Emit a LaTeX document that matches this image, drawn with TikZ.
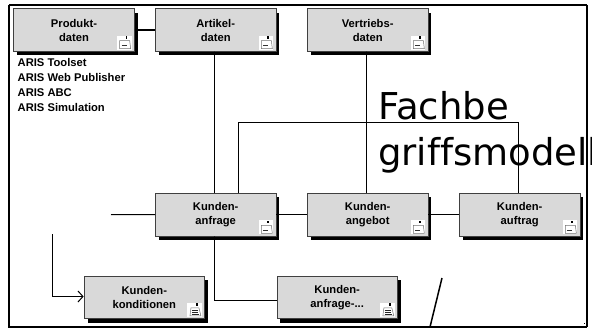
\documentclass[tikz,border=0pt]{standalone}
\usepackage{fontspec}
\setmainfont{Liberation Sans}
\newfontfamily\bigfont[Ligatures=NoCommon]{DejaVu Sans}
\usetikzlibrary{arrows.meta}
\definecolor{boxgray}{HTML}{D9D9D9}
\tikzset{
  entity/.style={draw=black!75,line width=0.8pt,fill=boxgray,minimum width=120.5pt,minimum height=42.5pt,
    inner sep=0pt,align=center,font=\fontsize{11.2}{14}\selectfont\bfseries,text=black},
  shade box/.style={fill=black},
  conn/.style={draw=black,line width=1pt},
  heavy/.style={draw=black,line width=1.5pt},
  tipd/.style={-{Diamond[length=4pt,width=4pt]}},
  pics/docicon/.style={code={
    \fill[white] (-17.5,-16) rectangle (-3,-2);
    \draw[black!55,line width=0.5pt] (-15,-11) -- (-5,-11) -- (-4,-3) -- (-15,-3) -- cycle;
    \fill[black] (-9,-15.5) rectangle (-7.5,-13);
    \draw[black!80,line width=0.6pt] (-13,-6.5) -- (-8,-6.5);
  }},
  pics/docfull/.style={code={
    \fill[white] (-17.5,-16) rectangle (-3,-2);
    \draw[black!55,line width=0.5pt] (-14,-11) -- (-6,-11) -- (-4,-3) -- (-15,-3) -- cycle;
    \fill[black] (-9,-15.5) rectangle (-6.5,-12.5);
    \draw[black!85,line width=0.6pt] (-13,-9) -- (-7,-9) (-13,-7) -- (-7,-7) (-13,-5) -- (-6,-5);
  }},
}
\newcommand{\entbox}[4]{%
  \fill[shade box] (#2+3.5-60.25,#3+4-21.25) rectangle (#2+3.5+60.25,#3+4+21.25);
  \node[entity] (#1) at (#2,#3) {#4};}
\begin{document}
\begin{tikzpicture}[x=1pt,y=-1pt]
\useasboundingbox (0,0) rectangle (592,329);
\fill[white] (0,0) rectangle (592,329);
% text behind the connectors
\node[anchor=base west,inner sep=0pt,font=\bigfont\fontsize{37}{37}\selectfont] (titleA) at (378,120) {Fachbe};
\node[anchor=base west,inner sep=0pt,font=\bigfont\fontsize{37}{37}\selectfont] (titleB) at (378,165) {griffsmodell};
% frame
\draw[black,line width=1.8pt] (8.8,5) -- (587,5) (8.8,5) -- (8.8,327) -- (587,327);
\draw[black,line width=1.3pt] (587,5) -- (587,327);
\fill[black] (584,322.5) rectangle (585,323.5);
% boxes
\entbox{prod}{74}{30}{Produkt-\\daten}
\entbox{art}{215.7}{30}{Artikel-\\daten}
\entbox{ver}{367.7}{30}{Vertriebs-\\daten}
\entbox{anf}{215.7}{214.7}{Kunden-\\anfrage}
\entbox{ang}{367.7}{214.7}{Kunden-\\angebot}
\entbox{auf}{519.7}{214.7}{Kunden-\\auftrag}
\entbox{kon}{144.3}{297.3}{Kunden-\\konditionen}
\entbox{anp}{337.2}{297.3}{Kunden-\\anfrage-...}
% icons
\pic at (prod.south east) {docicon};
\pic at (art.south east) {docicon};
\pic at (ver.south east) {docicon};
\pic at (anf.south east) {docicon};
\pic at (ang.south east) {docicon};
\pic at (auf.south east) {docicon};
\pic at (kon.south east) {docfull};
\pic at (anp.south east) {docfull};
% side list
\node[anchor=north west,inner sep=0pt,align=left,font=\fontsize{11.2}{15}\selectfont\bfseries] (tools) at (17.5,58.5)
  {ARIS Toolset\\ARIS Web Publisher\\ARIS ABC\\ARIS Simulation};
% connectors
\draw[heavy,tipd] (art.west) -- (prod.east);
\draw[conn,tipd] ([xshift=-1.2pt]anf.north) -- ([xshift=-1.2pt]art.south);
\coordinate (busL) at (238,122.5);
\coordinate (busR) at (518.5,122.5);
\draw[conn] (anf.north -| busL) -- (busL) -- (busR) -- (auf.north -| busR);
\coordinate (verJ) at (366.5,122.5);
\draw[heavy,tipd] (verJ) -- (ver.south -| verJ);
\draw[conn] (ang.north -| verJ) -- (verJ);
\coordinate (stub) at (111,214.5);
\draw[conn] (stub) -- (anf.west);
\draw[conn] (anf.east) -- (ang.west);
\draw[conn] (ang.east) -- (auf.west);
\coordinate (kstart) at (52,234);
\coordinate (kbend) at (52,296.5);
\draw[conn,-{Straight Barb[length=5pt,width=11pt]}] (kstart) -- (kbend) -- (kon.west |- kbend);
\coordinate (abend) at (214.5,300.5);
\draw[conn,tipd] (anp.west |- abend) -- (abend) -- ([xshift=-1.2pt]anf.south);
\coordinate (slashA) at (442,278);
\coordinate (slashB) at (430,327);
\draw[heavy] (slashA) -- (slashB);
\end{tikzpicture}
\end{document}
